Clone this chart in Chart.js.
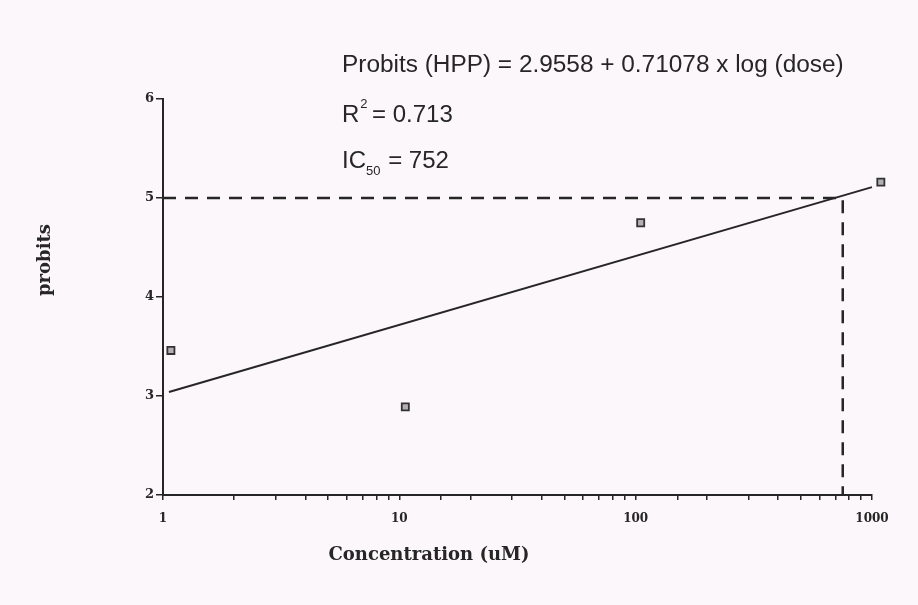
<!DOCTYPE html>
<html>
<head>
<meta charset="utf-8">
<title>Probit plot - HPP</title>
<script src="https://cdn.jsdelivr.net/npm/chart.js@4"></script>
<style>
    body { margin: 0; background: #fcf7fa; }
    #wrap { width: 918px; height: 605px; position: relative; }
</style>
</head>
<body>
<div id="wrap"><canvas id="probitChart" width="918" height="605"></canvas></div>
<script>
// Observed points (dose in uM, probit); last one sits just past the 1000 tick
const doses = [1.08, 10.6, 105, 1090];
const probits = [3.46, 2.89, 4.75, 5.16];

// Fitted line end points
const fitDoses = [1.06, 1000];
const fitProbits = [3.04, 5.11];

// IC50 guide (dashed)
const ic50Doses = [1, 752, 752];
const ic50Probits = [5, 5, 2];

// Tick labels shown on the x axis
const xLabels = [1, 10, 100, 1000];

// Text block at the top
const equationText = "Probits (HPP) = 2.9558 + 0.71078 x log (dose)";
const r2Text = "0.713";
const ic50Text = "752";

function toPoints(xs, ys) {
    return xs.map((x, i) => ({ x: x, y: ys[i] }));
}

const ink = "#262626";
const serif = "'DejaVu Serif', 'Liberation Serif', serif";
const sans = "'Liberation Sans', Arial, sans-serif";

// Chart.js skips points outside the chart area, so draw those again here
const outsidePoints = {
    id: "outsidePoints",
    afterDatasetsDraw(chart) {
        const area = chart.chartArea;
        const bigArea = { left: -10000, right: 10000, top: -10000, bottom: 10000 };
        chart.data.datasets.forEach((ds, i) => {
            if (ds.label !== "Observed") return;
            chart.getDatasetMeta(i).data.forEach(pt => {
                if (pt.x > area.right || pt.x < area.left || pt.y < area.top || pt.y > area.bottom) {
                    pt.draw(chart.ctx, bigArea);
                }
            });
        });
    }
};

// Draws the equation text and axis titles
const textPlugin = {
    id: "textPlugin",
    afterDraw(chart) {
        const ctx = chart.ctx;
        const left = 342;
        ctx.save();
        ctx.fillStyle = ink;
        ctx.textBaseline = "alphabetic";
        ctx.textAlign = "left";
        ctx.font = "24.4px " + sans;
        ctx.fillText(equationText, left, 72);

        // R² = 0.713
        ctx.font = "24px " + sans;
        ctx.fillText("R", left, 122);
        let w = ctx.measureText("R").width;
        ctx.font = "13px " + sans;
        ctx.fillText("2", left + w + 1, 108);
        ctx.font = "24px " + sans;
        ctx.fillText(" = " + r2Text, left + w + 6, 122);

        // IC50 = 752
        ctx.fillText("IC", left, 168);
        w = ctx.measureText("IC").width;
        ctx.font = "13px " + sans;
        ctx.fillText("50", left + w, 175);
        const w2 = ctx.measureText("50").width;
        ctx.font = "24px " + sans;
        ctx.fillText(" = " + ic50Text, left + w + w2 + 1, 168);

        // axis titles
        ctx.font = "bold 18px " + serif;
        ctx.textAlign = "center";
        ctx.fillText("Concentration (uM)", 429, 560);
        ctx.translate(50, 260);
        ctx.rotate(-Math.PI / 2);
        ctx.fillText("probits", 0, 0);
        ctx.restore();
    }
};

const ctx = document.getElementById("probitChart").getContext("2d");
const probitChart = new Chart(ctx, {
    type: "scatter",
    data: {
        datasets: [
            {
                label: "IC50",
                data: toPoints(ic50Doses, ic50Probits),
                showLine: true,
                borderColor: ink,
                borderWidth: 2.5,
                borderDash: [13, 9],
                pointRadius: 0,
                clip: false
            },
            {
                label: "Fit",
                data: toPoints(fitDoses, fitProbits),
                showLine: true,
                borderColor: ink,
                borderWidth: 2,
                pointRadius: 0,
                clip: false
            },
            {
                label: "Observed",
                data: toPoints(doses, probits),
                pointStyle: "rect",
                pointRadius: 5,
                backgroundColor: "#b3b0b2",
                borderColor: "#333333",
                borderWidth: 1.8,
                clip: false
            }
        ]
    },
    options: {
        responsive: false,
        animation: false,
        layout: { padding: { top: 99, right: 46, left: 0, bottom: 0 } },
        plugins: {
            legend: { display: false },
            tooltip: { enabled: false }
        },
        scales: {
            x: {
                type: "logarithmic",
                min: 1,
                max: 1000,
                afterFit: function(scale) { scale.height = 110; },
                border: { display: true, color: ink, width: 2 },
                grid: { drawOnChartArea: false, drawTicks: true, tickLength: 5, color: ink, lineWidth: 1.5 },
                ticks: {
                    autoSkip: false,
                    maxRotation: 0,
                    color: ink,
                    padding: 12,
                    font: { family: serif, size: 12, weight: "bold" },
                    callback: function(value) {
                        return xLabels.includes(value) ? String(value) : "";
                    }
                }
            },
            y: {
                min: 2,
                max: 6,
                afterFit: function(scale) { scale.width = 163; },
                border: { display: true, color: ink, width: 2 },
                grid: { drawOnChartArea: false, drawTicks: true, tickLength: 7, color: ink, lineWidth: 1.5 },
                ticks: {
                    stepSize: 1,
                    color: ink,
                    padding: 2,
                    font: { family: serif, size: 13, weight: "bold" }
                }
            }
        }
    },
    plugins: [outsidePoints, textPlugin]
});
</script>
</body>
</html>
